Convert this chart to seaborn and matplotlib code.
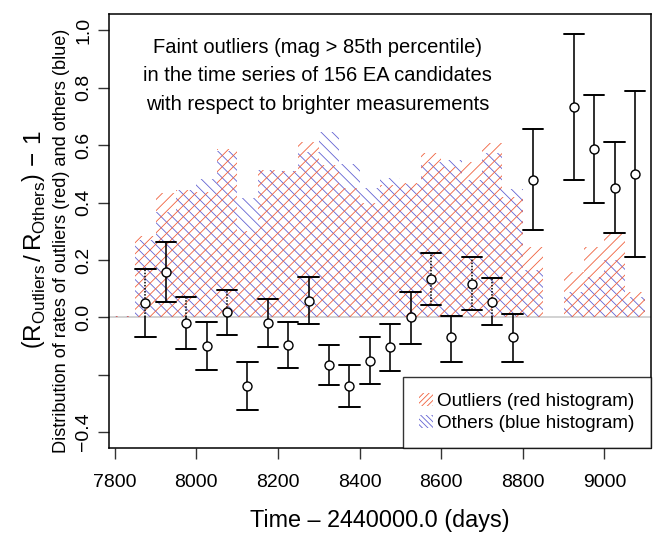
import numpy as np
import pandas as pd
import matplotlib
matplotlib.use("Agg")
import matplotlib.pyplot as plt
from matplotlib.patches import Patch
import seaborn as sns

# ---------------- data ----------------
bin_edges = list(range(7800, 9101, 50))            # 26 bins of 50 days
bin_centers = [e + 25 for e in bin_edges[:-1]]
red_hist = [0.004, 0.283, 0.432, 0.443, 0.438, 0.585, 0.30, 0.513, 0.510, 0.612,
            0.530, 0.450, 0.400, 0.462, 0.469, 0.571, 0.525, 0.542, 0.606, 0.420,
            0.246, 0.0, 0.159, 0.246, 0.293, 0.090]
blue_hist = [0.006, 0.270, 0.368, 0.443, 0.482, 0.580, 0.415, 0.515, 0.510, 0.577,
             0.645, 0.535, 0.450, 0.485, 0.465, 0.542, 0.548, 0.478, 0.571, 0.449,
             0.165, 0.0, 0.090, 0.140, 0.200, 0.070]

pt_time = [7875, 7925, 7975, 8025, 8075, 8125, 8175, 8225, 8275, 8325, 8375, 8425,
           8475, 8525, 8575, 8625, 8675, 8725, 8775, 8825, 8925, 8975, 9025, 9075]
pt_mid = [0.051, 0.157, -0.019, -0.100, 0.017, -0.239, -0.021, -0.097, 0.057, -0.166,
          -0.239, -0.151, -0.105, 0.000, 0.132, -0.069, 0.116, 0.054, -0.070, 0.478,
          0.734, 0.585, 0.452, 0.499]
pt_hi = [0.168, 0.263, 0.070, -0.017, 0.097, -0.157, 0.063, -0.016, 0.139, -0.097,
         -0.166, -0.068, -0.023, 0.087, 0.223, 0.005, 0.209, 0.136, 0.013, 0.655,
         0.988, 0.775, 0.610, 0.790]
pt_lo = [-0.068, 0.052, -0.110, -0.183, -0.062, -0.322, -0.103, -0.177, -0.023, -0.236,
         -0.311, -0.233, -0.186, -0.094, 0.044, -0.155, 0.025, -0.027, -0.156, 0.303,
         0.478, 0.397, 0.295, 0.211]
pt_dotted = [True, False, True, False, True, False, False, False, False, False,
             False, False, False, False, True, False, True, True, False, False,
             False, False, False, False]

x_ticks = [7800, 8000, 8200, 8400, 8600, 8800, 9000]
y_ticks = [-0.4, -0.2, 0.0, 0.2, 0.4, 0.6, 0.8, 1.0]
y_ticklabels = ["\u22120.4", "", "0.0", "0.2", "0.4", "0.6", "0.8", "1.0"]

annotation = ("Faint outliers (mag > 85th percentile)\n"
              "in the time series of 156 EA candidates\n"
              "with respect to brighter measurements")
legend_labels = ["Outliers (red histogram)", "Others (blue histogram)"]

# ---------------- style ----------------
sns.set_theme(style="ticks")
plt.rcParams["font.family"] = ["Liberation Sans", "DejaVu Sans"]
plt.rcParams["mathtext.fontset"] = "custom"
plt.rcParams["mathtext.rm"] = "Liberation Sans"
plt.rcParams["mathtext.it"] = "Liberation Sans"
plt.rcParams["hatch.linewidth"] = 0.6
plt.rcParams["text.color"] = "black"
plt.rcParams["axes.labelcolor"] = "black"

RED = "#f0603c"
BLUE = "#6262d2"

fig = plt.figure(figsize=(6.7, 5.37), dpi=100)
ax = fig.add_axes([0.1627, 0.1657, 0.8085, 0.8082])

df = pd.DataFrame({"t": bin_centers, "red": red_hist, "blue": blue_hist})

ax.axhline(0, color="#cfcfcf", lw=1.3, zorder=0.5)

for col, color, hatch in [("blue", BLUE, "\\\\\\"), ("red", RED, "///")]:
    n_before = len(ax.patches)
    sns.histplot(data=df, x="t", weights=col, bins=bin_edges, ax=ax,
                 element="bars", fill=True, shrink=1, linewidth=0)
    for p in ax.patches[n_before:]:
        p.set_facecolor("none")
        p.set_edgecolor(color)
        p.set_hatch(hatch)
        p.set_linewidth(0)
        p.set_zorder(1)

# error bars
cap_half = 25
for t, m, lo, hi, dot in zip(pt_time, pt_mid, pt_lo, pt_hi, pt_dotted):
    if dot:
        d_lo = max(lo, 0.0)
        ax.plot([t, t], [d_lo, hi], color="black", lw=1.1, ls=(0, (1.0, 1.0)), zorder=3)
        if lo < 0:
            ax.plot([t, t], [lo, 0.0], color="black", lw=1.15, zorder=3)
    else:
        ax.plot([t, t], [lo, hi], color="black", lw=1.15, zorder=3)
    ax.plot([t - cap_half, t + cap_half], [hi, hi], color="black", lw=1.4, zorder=3)
    ax.plot([t - cap_half, t + cap_half], [lo, lo], color="black", lw=1.4, zorder=3)

sns.scatterplot(x=pt_time, y=pt_mid, ax=ax, marker="o", s=42, facecolor="white",
                edgecolor="black", linewidth=1.0, zorder=4)

ax.set_xlim(7786, 9113.5)
ax.set_ylim(-0.4554, 1.0571)
ax.set_xticks(x_ticks)
ax.set_xticklabels([str(v) for v in x_ticks])
ax.set_yticks(y_ticks)
ax.set_yticklabels(y_ticklabels, rotation=90, va="center")
ax.tick_params(axis="both", direction="out", length=8, width=1.0, color="#333333",
               labelsize=14, colors="black")
ax.tick_params(axis="x", pad=11)
ax.tick_params(axis="y", pad=4)
ax.set_xlabel("")
ax.set_ylabel("")
for s in ax.spines.values():
    s.set_visible(True)
    s.set_color("black")
    s.set_linewidth(1.1)

ax.text(8298, 0.842, annotation, ha="center", va="center", fontsize=14.5,
        linespacing=1.62, zorder=5)

handles = [Patch(facecolor="none", edgecolor=RED, hatch="//////", linewidth=0),
           Patch(facecolor="none", edgecolor=BLUE, hatch="\\\\\\\\\\\\", linewidth=0)]
leg = ax.legend(handles, legend_labels, loc="lower right", bbox_to_anchor=(1.0, 0.0),
                borderaxespad=0, fontsize=13.6, frameon=True, fancybox=False,
                handlelength=0.7, handleheight=0.65, handletextpad=0.25,
                labelspacing=0.25, borderpad=0.85)
leg.get_frame().set_edgecolor("black")
leg.get_frame().set_linewidth(1.0)
leg.set_zorder(6)

fig.text(379.5 / 670, 1 - 521 / 537, "Time \u2013 2440000.0 (days)", ha="center",
         va="center", fontsize=16.8)
fig.text(34 / 670, 1 - 240 / 537,
         r"$\left(\mathrm{R}_{\mathrm{Outliers}}\,/\,\mathrm{R}_{\mathrm{Others}}\right)\,-\,1$",
         rotation=90, ha="center", va="center", fontsize=17.5)
fig.text(62 / 670, 1 - 241 / 537,
         "Distribution of rates of outliers (red) and others (blue)",
         rotation=90, ha="center", va="center", fontsize=13.1)

fig.savefig("out.png", dpi=100)
